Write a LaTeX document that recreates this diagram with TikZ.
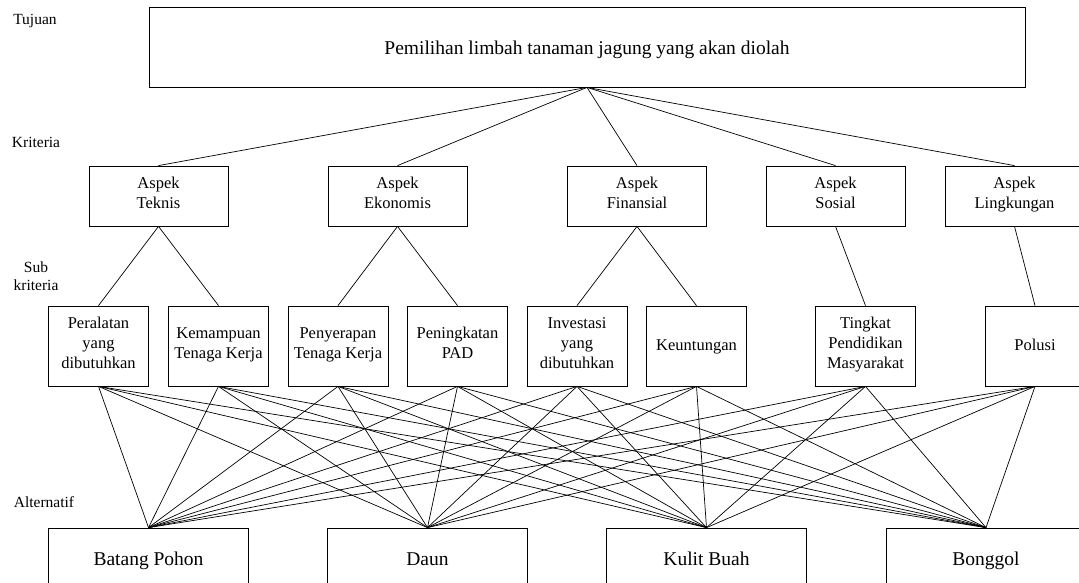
\documentclass[tikz,border=0pt]{standalone}
\usepackage{fontspec}
\setmainfont{Liberation Serif}
\begin{document}
\begin{tikzpicture}[x=1pt,y=-1pt,
  box/.style={draw,line width=0.8pt,inner sep=0pt,align=center,font=\fontsize{16.5}{20}\selectfont,
    execute at begin node=\strut, execute at end node=\strut},
  bigbox/.style={box,font=\fontsize{19.5}{23}\selectfont},
  kbox/.style={box,minimum width=139pt,minimum height=60pt},
  sbox/.style={box,minimum width=100pt,minimum height=80pt},
  abox/.style={bigbox,minimum width=200pt,minimum height=66pt},
  lbl/.style={font=\fontsize{15.5}{18}\selectfont,align=center,inner sep=0pt},
  link/.style={line width=0.7pt}]
\useasboundingbox (0,0) rectangle (1079,583);
\clip (0,0) rectangle (1079,583);

% level labels
\node[lbl] (lt) at (35,21) {Tujuan};
\node[lbl] (lk) at (36,142) {Kriteria};
\node[lbl] (ls) at (36,276) {Sub\\kriteria};
\node[lbl] (la) at (44,502) {Alternatif};

% goal
\node[bigbox,minimum width=876pt,minimum height=80pt] (goal) at (587,47) {\raisebox{-4pt}{Pemilihan limbah tanaman jagung yang akan diolah}};

% criteria
\node[kbox] (k1) at (158.5,196) {Aspek\\Teknis};
\node[kbox] (k2) at (397.5,196) {Aspek\\Ekonomis};
\node[kbox] (k3) at (637,196) {Aspek\\Finansial};
\node[kbox] (k4) at (835.5,196) {Aspek\\Sosial};
\node[kbox] (k5) at (1014.5,196) {Aspek\\Lingkungan};

% sub criteria
\node[sbox] (s1) at (98.5,346) {Peralatan\\yang\\dibutuhkan};
\node[sbox] (s2) at (218.5,346) {Kemampuan\\Tenaga Kerja};
\node[sbox] (s3) at (338,346) {Penyerapan\\Tenaga Kerja};
\node[sbox] (s4) at (457.5,346) {Peningkatan\\PAD};
\node[sbox] (s5) at (577,346) {Investasi\\yang\\dibutuhkan};
\node[sbox] (s6) at (696.5,346) {Keuntungan};
\node[sbox] (s7) at (865.5,346) {Tingkat\\Pendidikan\\Masyarakat};
\node[sbox] (s8) at (1035,346) {Polusi};

% alternatives
\node[abox] (a1) at (148.5,561) {Batang Pohon};
\node[abox] (a2) at (427.5,561) {Daun};
\node[abox] (a3) at (706.5,561) {Kulit Buah};
\node[abox] (a4) at (986,561) {Bonggol};

% links goal -> criteria
\foreach \k in {k1,k2,k3,k4,k5}
  \draw[link] (goal.south) -- (\k.north);

% criteria -> sub criteria
\draw[link] (k1.south) -- (s1.north);
\draw[link] (k1.south) -- (s2.north);
\draw[link] (k2.south) -- (s3.north);
\draw[link] (k2.south) -- (s4.north);
\draw[link] (k3.south) -- (s5.north);
\draw[link] (k3.south) -- (s6.north);
\draw[link] (k4.south) -- (s7.north);
\draw[link] (k5.south) -- (s8.north);

% sub criteria -> alternatives
\foreach \s in {s1,s2,s3,s4,s5,s6,s7,s8}
  \foreach \a in {a1,a2,a3,a4}
    \draw[link] (\s.south) -- (\a.north);
\end{tikzpicture}
\end{document}
